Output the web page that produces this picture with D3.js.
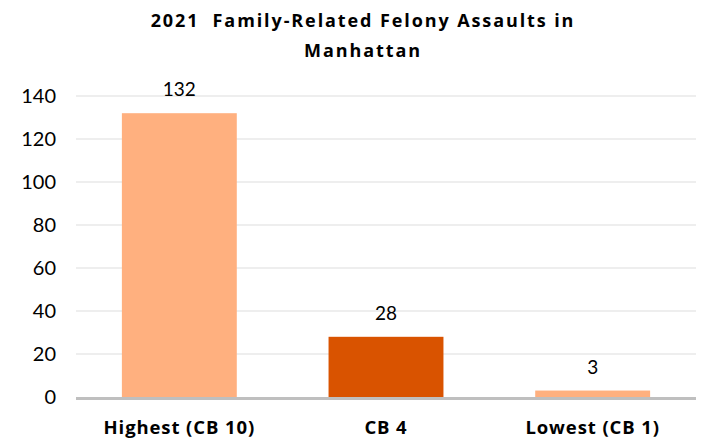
<!DOCTYPE html>
<html>
<head>
<meta charset="utf-8">
<script src="https://cdn.jsdelivr.net/npm/d3@7"></script>
<style>
    body { margin: 0; background: #fff; }
    svg text { fill: #000; white-space: pre; }
</style>
</head>
<body>
<div id="chart"></div>
<script>
// chart data
const categories = ['Highest (CB 10)', 'CB 4', 'Lowest (CB 1)'];
const values = [132, 28, 3];
const barColors = ['#ffb07f', '#d95300', '#ffb07f'];
const yTicks = [0, 20, 40, 60, 80, 100, 120, 140];
const titleLines = ['2021  Family-Related Felony Assaults in', 'Manhattan'];

const width = 702;
const height = 440;
const margin = { top: 96, right: 6, bottom: 43, left: 76 };

const svg = d3.select('#chart')
    .append('svg')
    .attr('width', width)
    .attr('height', height);

const x = d3.scaleBand()
    .domain(categories)
    .range([margin.left, width - margin.right])
    .paddingInner(0.444)
    .paddingOuter(0.222);

const y = d3.scaleLinear()
    .domain([0, 140])
    .range([height - margin.bottom, margin.top]);

// gridlines
svg.append('g')
    .selectAll('line')
    .data(yTicks.filter(d => d > 0))
    .enter()
    .append('line')
    .attr('x1', margin.left)
    .attr('x2', width - margin.right)
    .attr('y1', d => y(d))
    .attr('y2', d => y(d))
    .attr('stroke', '#e8e8e8')
    .attr('stroke-width', 1.3);

// y tick labels
svg.append('g')
    .selectAll('text')
    .data(yTicks)
    .enter()
    .append('text')
    .attr('x', 56)
    .attr('y', d => y(d))
    .attr('dy', '0.35em')
    .attr('text-anchor', 'end')
    .style('font-family', 'Lato, "Open Sans", sans-serif')
    .style('font-size', '20px')
    .text(d => d);

// bars
svg.append('g')
    .selectAll('rect')
    .data(values)
    .enter()
    .append('rect')
    .attr('x', (d, i) => x(categories[i]))
    .attr('y', d => y(d))
    .attr('width', x.bandwidth())
    .attr('height', d => y(0) - y(d))
    .attr('fill', (d, i) => barColors[i]);

// baseline
svg.append('line')
    .attr('x1', margin.left)
    .attr('x2', width - margin.right)
    .attr('y1', y(0) + 1.5)
    .attr('y2', y(0) + 1.5)
    .attr('stroke', '#bfbfbf')
    .attr('stroke-width', 3);

// value labels
svg.append('g')
    .selectAll('text')
    .data(values)
    .enter()
    .append('text')
    .attr('x', (d, i) => x(categories[i]) + x.bandwidth() / 2)
    .attr('y', d => y(d) - 17)
    .attr('text-anchor', 'middle')
    .style('font-family', 'Lato, "Open Sans", sans-serif')
    .style('font-size', '19px')
    .text(d => d);

// category labels
svg.append('g')
    .selectAll('text')
    .data(categories)
    .enter()
    .append('text')
    .attr('x', d => x(d) + x.bandwidth() / 2)
    .attr('y', 434)
    .attr('text-anchor', 'middle')
    .style('font-family', '"Open Sans", sans-serif')
    .style('font-weight', 'bold')
    .style('font-size', '18.5px')
    .style('letter-spacing', '0.9px')
    .text(d => d);

// title
svg.append('g')
    .selectAll('text')
    .data(titleLines)
    .enter()
    .append('text')
    .attr('x', 363)
    .attr('y', (d, i) => 27 + i * 30)
    .attr('text-anchor', 'middle')
    .style('font-family', '"Open Sans", sans-serif')
    .style('font-weight', 'bold')
    .style('font-size', '18px')
    .style('letter-spacing', '1.9px')
    .text(d => d);
</script>
</body>
</html>
